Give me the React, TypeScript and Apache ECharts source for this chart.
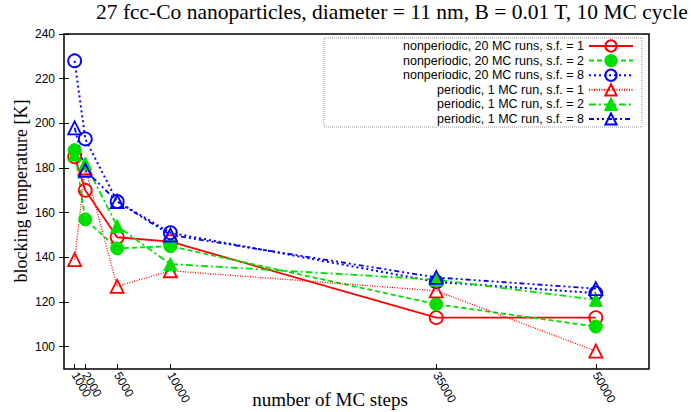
import React, { useEffect, useRef } from "react";
import * as echarts from "echarts";

const steps = [1000, 2000, 5000, 10000, 35000, 50000];
const stepLabels = [1000, 5000, 10000, 35000, 50000];
const stepLabelsCrowded = [2000];
const tempTicks = [100, 120, 140, 160, 180, 200, 220, 240];

const nonPer1 = [185, 170, 149, 147, 113, 113];
const nonPer2 = [188, 157, 144, 145, 119, 109];
const nonPer8 = [228, 193, 165, 151, 129, 124];
const per1 = [139, 180, 127, 134, 125, 98];
const per2 = [186, 182, 154, 137, 130, 121];
const per8 = [198, 179, 165, 150, 131, 126];

const seriesNames = [
  "nonperiodic, 20 MC runs, s.f. = 1",
  "nonperiodic, 20 MC runs, s.f. = 2",
  "nonperiodic, 20 MC runs, s.f. = 8",
  "periodic, 1 MC run, s.f. = 1",
  "periodic, 1 MC run, s.f. = 2",
  "periodic, 1 MC run, s.f. = 8",
];

const titleText = "27 fcc-Co nanoparticles, diameter = 11 nm, B = 0.01 T, 10 MC cycle";
const xName = "number of MC steps";
const yName = "blocking temperature [K]";

const RED = "#ff0000";
const GREEN = "#00e000";
const BLUE = "#0000ff";

function mk(name: string, vals: number[], color: string, symbol: string, filled: boolean, dash: any, width: number) {
  return {
    name,
    type: "line",
    xAxisIndex: 0,
    yAxisIndex: 0,
    data: steps.map((s, i) => [s, vals[i]]),
    symbol,
    symbolSize: 13,
    showAllSymbol: true,
    color,
    lineStyle: { color, width, type: dash },
    itemStyle: filled
      ? { color, borderColor: color, borderWidth: 1 }
      : { color: "rgba(255,255,255,0)", borderColor: color, borderWidth: 1.8 },
    emphasis: { disabled: true },
  };
}

export default function App() {
  const ref = useRef<HTMLDivElement>(null);
  useEffect(() => {
    if (!ref.current) return;
    const chart = echarts.init(ref.current, null, { renderer: "svg" });
    const sans = "Liberation Sans";
    const serif = "Liberation Serif";
    const xLabelBase = {
      formatter: (v: number) => String(v),
      hideOverlap: false,
      showMinLabel: true,
      showMaxLabel: true,
      rotate: -60,
      margin: 4,
      fontSize: 12,
      fontFamily: sans,
      color: "#000",
    };
    chart.setOption({
      animation: false,
      backgroundColor: "#ffffff",
      grid: {
        left: 64,
        right: 42,
        top: 34,
        bottom: 43,
        show: true,
        borderColor: "#000",
        borderWidth: 1.5,
        backgroundColor: "transparent",
      },
      xAxis: [
        {
          type: "value",
          min: 0,
          max: 55000,
          axisLine: { show: false },
          splitLine: { show: false },
          axisTick: { show: true, inside: true, length: 5, customValues: steps, lineStyle: { color: "#000", width: 1 } },
          axisLabel: { ...xLabelBase, customValues: stepLabels },
        },
        {
          type: "value",
          position: "bottom",
          offset: 0,
          min: 0,
          max: 55000,
          axisLine: { show: false },
          splitLine: { show: false },
          axisTick: { show: false },
          axisLabel: { ...xLabelBase, customValues: stepLabelsCrowded },
        },
      ],
      yAxis: [
        {
          type: "value",
          min: 90,
          max: 240,
          axisLine: { show: false },
          splitLine: { show: false },
          axisTick: { show: true, inside: true, length: 5, customValues: tempTicks, lineStyle: { color: "#000", width: 1 } },
          axisLabel: { customValues: tempTicks, margin: 9, fontSize: 12, fontFamily: sans, color: "#000" },
        },
        {
          type: "value",
          position: "right",
          min: 90,
          max: 240,
          axisLine: { show: false },
          splitLine: { show: false },
          axisTick: { show: true, inside: true, length: 5, customValues: tempTicks, lineStyle: { color: "#000", width: 1 } },
          axisLabel: { show: false },
        },
      ],
      legend: {
        orient: "vertical",
        right: 49,
        top: 38,
        align: "right",
        itemWidth: 44,
        itemHeight: 14,
        itemGap: 0.6,
        padding: [1, 8, 1, 8],
        borderColor: "#999",
        borderType: "dotted",
        borderWidth: 1,
        backgroundColor: "#fff",
        selectedMode: false,
        data: seriesNames,
        textStyle: {
          fontSize: 12.5,
          fontFamily: sans,
          color: "#000",
          width: 252,
          align: "right",
          lineHeight: 14,
        },
      },
      graphic: [
        {
          type: "text",
          left: 96,
          top: 1,
          style: { text: titleText, font: `21.5px "${serif}"`, fill: "#000" },
        },
        {
          type: "text",
          x: 330,
          y: 399,
          style: { text: xName, font: `19px "${serif}"`, fill: "#000", align: "center", verticalAlign: "middle" },
        },
        {
          type: "text",
          x: 21,
          y: 191,
          rotation: Math.PI / 2,
          style: { text: yName, font: `18px "${serif}"`, fill: "#000", align: "center", verticalAlign: "middle" },
        },
      ],
      series: [
        mk(seriesNames[0], nonPer1, RED, "circle", false, "solid", 1.8),
        mk(seriesNames[1], nonPer2, GREEN, "circle", true, [5, 3], 1.8),
        mk(seriesNames[2], nonPer8, BLUE, "circle", false, [2, 3], 2),
        mk(seriesNames[3], per1, RED, "triangle", false, [1, 1.5], 1.3),
        mk(seriesNames[4], per2, GREEN, "triangle", true, [7, 3, 2, 3], 1.8),
        mk(seriesNames[5], per8, BLUE, "triangle", false, [5, 3, 2, 3, 2, 3], 1.8),
      ],
    });
    return () => chart.dispose();
  }, []);
  return (
    <div
      ref={ref}
      style={{ position: "fixed", left: 0, top: 0, width: 691, height: 412 }}
    />
  );
}
